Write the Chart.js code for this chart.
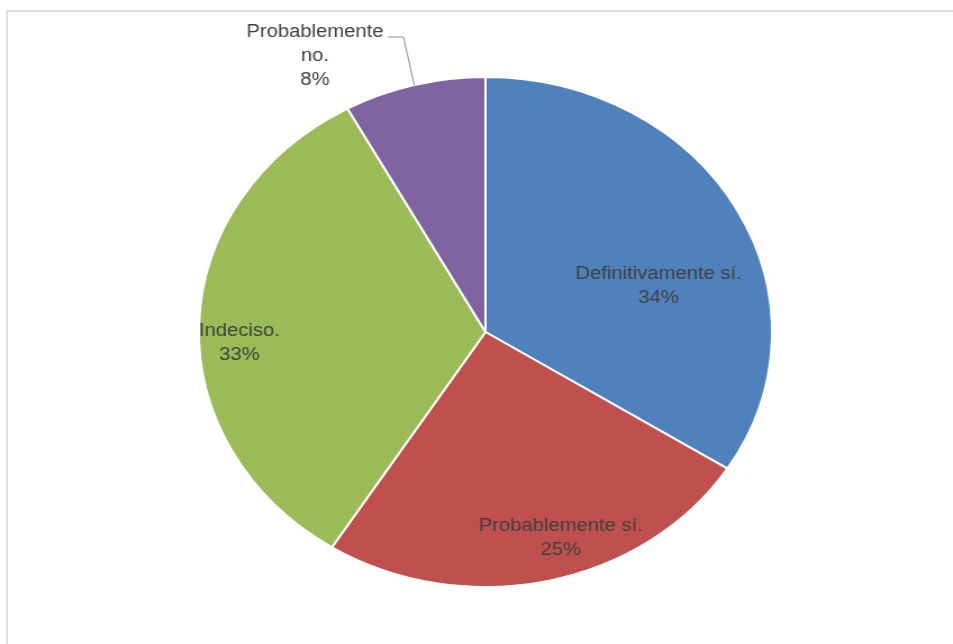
<!DOCTYPE html>
<html>
<head>
<meta charset="utf-8">
<script src="https://cdn.jsdelivr.net/npm/chart.js@4"></script>
<style>
  html, body { margin: 0; padding: 0; background: #fff; overflow: hidden; }
  body { width: 953px; height: 644px; position: relative; }
  #frame { position: absolute; left: 6px; top: 10px; width: 1000px; height: 700px; border: 2px solid #dedede; }
  #stretch { position: absolute; left: 0; top: 0; width: 848px; height: 644px; transform: scaleX(1.1238); transform-origin: 0 0; }
</style>
</head>
<body>
<div id="frame"></div>
<div id="stretch"><canvas id="pie" width="848" height="644"></canvas></div>
<script>
// answers, clockwise from the top
const categories = ["Definitivamente sí.", "Probablemente sí.", "Indeciso.", "Probablemente no."];
const percentages = [34, 25, 33, 8];
const labelLines = [
    ["Definitivamente sí.", "34%"],
    ["Probablemente sí.", "25%"],
    ["Indeciso.", "33%"],
    ["Probablemente", "no.", "8%"]
];
const sliceColors = ["#4f81bd", "#c0504d", "#9bbb59", "#8064a2"];

// where each label sits: fraction along the slice angle, fraction of radius
const labelSpots = [
    { t: 0.60, r: 0.63 },
    { t: 0.44, r: 0.85 },
    { t: 0.46, r: 0.86 },
    { t: 0.0, r: 1.235, leader: true }
];

const sliceLabels = {
    id: "sliceLabels",
    afterDatasetsDraw(chart) {
        const ctx = chart.ctx;
        const meta = chart.getDatasetMeta(0);
        ctx.save();
        ctx.font = "18px 'Liberation Sans', Arial, sans-serif";
        ctx.fillStyle = "#404040";
        ctx.textAlign = "center";
        ctx.textBaseline = "middle";
        meta.data.forEach((arc, i) => {
            const p = arc.getProps(["x", "y", "startAngle", "endAngle", "outerRadius"], true);
            const spot = labelSpots[i];
            const a = p.startAngle + spot.t * (p.endAngle - p.startAngle);
            const cx = p.x + Math.cos(a) * p.outerRadius * spot.r;
            const cy = p.y + Math.sin(a) * p.outerRadius * spot.r;
            const lines = labelLines[i];
            const lh = 24;
            const y0 = cy - (lines.length - 1) * lh / 2;
            lines.forEach((txt, k) => ctx.fillText(txt, cx, y0 + k * lh));

            if (spot.leader) {
                const mid = (p.startAngle + p.endAngle) / 2;
                const ex = p.x + Math.cos(mid) * p.outerRadius;
                const ey = p.y + Math.sin(mid) * p.outerRadius;
                const ly = y0 + 5;
                const tx = cx + ctx.measureText(lines[0]).width / 2 + 4;
                ctx.strokeStyle = "#8c8c8c";
                ctx.lineWidth = 1;
                ctx.beginPath();
                ctx.moveTo(ex, ey);
                ctx.lineTo(ex - 9.5, ly);
                ctx.lineTo(tx, ly);
                ctx.stroke();
            }
        });
        ctx.restore();
    }
};

new Chart(document.getElementById("pie"), {
    type: "pie",
    data: {
        labels: categories,
        datasets: [{
            data: percentages,
            backgroundColor: sliceColors,
            borderColor: "#ffffff",
            borderWidth: 2
        }]
    },
    options: {
        responsive: false,
        animation: false,
        devicePixelRatio: 1,
        layout: { padding: { left: 176, top: 76, right: 160, bottom: 56 } },
        plugins: {
            legend: { display: false },
            tooltip: { enabled: false }
        }
    },
    plugins: [sliceLabels]
});
</script>
</body>
</html>
